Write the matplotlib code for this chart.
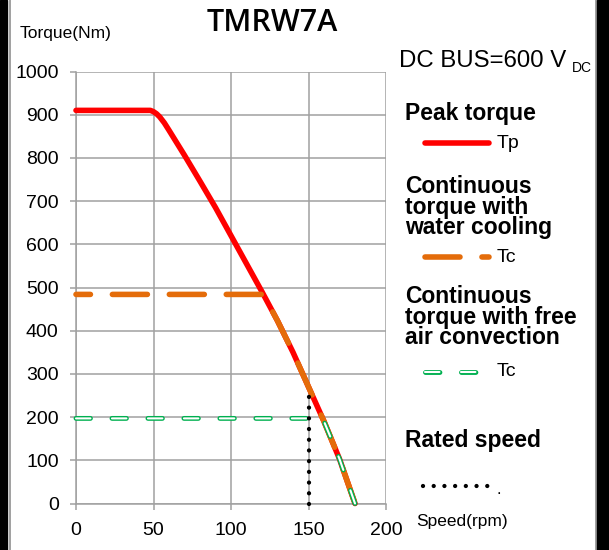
import matplotlib
matplotlib.use("Agg")
import matplotlib.pyplot as plt
from matplotlib.lines import Line2D
from matplotlib.patches import Rectangle

# ---------------- data ----------------
tp_speed = [0, 48, 50, 52, 54, 57, 60, 65, 70, 80, 90, 100, 110, 120, 130, 140, 150, 160, 170, 180]
tp_torque = [910, 910, 907, 902, 895, 881, 864, 835, 806, 746, 685, 620, 555, 490, 423, 350, 270, 190, 103, 0]

tc_water_speed = [0, 120.9, 130, 140, 150, 160, 170, 180]
tc_water_torque = [484, 484, 423, 350, 270, 190, 103, 0]

tc_air_speed = [0, 159.1, 160, 170, 180]
tc_air_torque = [197, 197, 190, 103, 0]

rated_speed = [150, 150]
rated_torque = [0, 265]

x_ticks = [0, 50, 100, 150, 200]
y_ticks = [0, 100, 200, 300, 400, 500, 600, 700, 800, 900, 1000]

title = "TMRW7A"
RED = "#FF0000"
ORANGE = "#E46C0A"
GREEN = "#00B050"
GRID = "#A0A0A0"

plt.rcParams['lines.scale_dashes'] = False
plt.rcParams['font.family'] = ['Liberation Sans', 'DejaVu Sans']

W, H = 609, 550
fig = plt.figure(figsize=(W / 100, H / 100), dpi=100)
fig.patch.set_facecolor("white")


def fx(x):
    return x / W


def fy(y):
    return 1 - y / H


# axes placement
x0, x1 = 76, 386
y0, y1 = 503.5, 71.5
ax = fig.add_axes([fx(x0), fy(y0), (x1 - x0) / W, (y0 - y1) / H])
ax.set_xlim(0, 200)
ax.set_ylim(0, 1000)
ax.set_xticks(x_ticks)
ax.set_yticks(y_ticks)
ax.grid(True, color=GRID, lw=1.1, zorder=0)
for s in ["top", "right"]:
    ax.spines[s].set_visible(False)
for s in ["left", "bottom"]:
    ax.spines[s].set_color(GRID)
    ax.spines[s].set_linewidth(1.1)
ax.tick_params(axis="both", colors=GRID, length=4.5, width=1.1, labelcolor="black",
               labelsize=14)
ax.tick_params(axis="x", pad=8.5)
ax.tick_params(axis="y", pad=8)

lw_main = 4.0
# Tp
ax.plot(tp_speed, tp_torque, color=RED, lw=lw_main, solid_capstyle="round",
        solid_joinstyle="round", zorder=3, clip_on=False)
# Tc water (orange dashes)
ax.plot(tc_water_speed, tc_water_torque, color=ORANGE, lw=lw_main,
        linestyle=(14.8, (25.2, 15.8)), dash_capstyle="round", zorder=4, clip_on=False)
# Tc air (hollow green dashes)
dash_g = (0, (10.4, 15.5))
ax.plot(tc_air_speed, tc_air_torque, color=GREEN, lw=3.5, linestyle=dash_g,
        dash_capstyle="round", zorder=5, clip_on=False)
ax.plot(tc_air_speed, tc_air_torque, color="white", lw=1.5, linestyle=dash_g,
        dash_capstyle="round", zorder=6, clip_on=False)
# rated speed dotted line
ax.plot(rated_speed, rated_torque, color="black", lw=3.1, linestyle=(0, (0.01, 7.7)),
        dash_capstyle="round", zorder=7, clip_on=False)

# ---------------- texts ----------------
fig.text(fx(272.5), fy(30.7), title, fontsize=22, family="Open Sans", fontweight="semibold",
         ha="center", va="baseline")
fig.text(fx(20), fy(38), "Torque(Nm)", fontsize=12.5, ha="left", va="baseline")
fig.text(fx(399), fy(67), "DC BUS=600 V", fontsize=17.3, ha="left", va="baseline")
fig.text(fx(572), fy(72.5), "DC", fontsize=10, ha="left", va="baseline")
fig.text(fx(416), fy(526), "Speed(rpm)", fontsize=12.5, ha="left", va="baseline")

bold_kw = dict(fontsize=16.5, fontweight="bold", ha="left", va="baseline")
legend_blocks = [
    (["Peak torque"], 120),
    (["Continuous", "torque with", "water cooling"], 193.3),
    (["Continuous", "torque with free", "air convection"], 303.3),
    (["Rated speed"], 447),
]
for lines, base in legend_blocks:
    for i, line in enumerate(lines):
        fig.text(fx(405), fy(base + i * 20.4), line, **bold_kw)

lab_kw = dict(fontsize=14, ha="left", va="center")
fig.text(fx(497), fy(143), "Tp", **lab_kw)
fig.text(fx(497), fy(257), "Tc", **lab_kw)
fig.text(fx(497), fy(372), "Tc", **lab_kw)
fig.text(fx(497), fy(494), ".", fontsize=12, ha="left", va="baseline")

# legend swatches (figure coordinates)
lx0, lx1 = 425, 489
fig.add_artist(Line2D([fx(lx0), fx(lx1)], [fy(143), fy(143)], color=RED, lw=lw_main,
                      solid_capstyle="round", transform=fig.transFigure))
fig.add_artist(Line2D([fx(lx0), fx(lx1)], [fy(257), fy(257)], color=ORANGE, lw=lw_main,
                      linestyle=(0, (25.2, 15.8)), dash_capstyle="round",
                      transform=fig.transFigure))
fig.add_artist(Line2D([fx(lx0), fx(lx1)], [fy(372), fy(372)], color=GREEN, lw=3.5,
                      linestyle=dash_g, dash_capstyle="round", transform=fig.transFigure))
fig.add_artist(Line2D([fx(lx0), fx(lx1)], [fy(372), fy(372)], color="white", lw=1.5,
                      linestyle=dash_g, dash_capstyle="round", transform=fig.transFigure))
fig.add_artist(Line2D([fx(423), fx(492)], [fy(486), fy(486)], color="black", lw=3.1,
                      linestyle=(0, (0.01, 7.7)), dash_capstyle="round",
                      transform=fig.transFigure))

# ---------------- outer frame ----------------
fig.add_artist(Rectangle((0, 0), fx(7), 1, transform=fig.transFigure,
                         color="black", zorder=10))
fig.add_artist(Rectangle((fx(597), 0), fx(12), 1, transform=fig.transFigure,
                         color="black", zorder=10))
fig.add_artist(Line2D([fx(9.5), fx(9.5)], [0, 1], color="#909090", lw=1.2,
                      transform=fig.transFigure))
fig.add_artist(Line2D([fx(595.5), fx(595.5)], [0, 1], color="#909090", lw=1.2,
                      transform=fig.transFigure))

fig.savefig("out.png", dpi=100, facecolor="white")
